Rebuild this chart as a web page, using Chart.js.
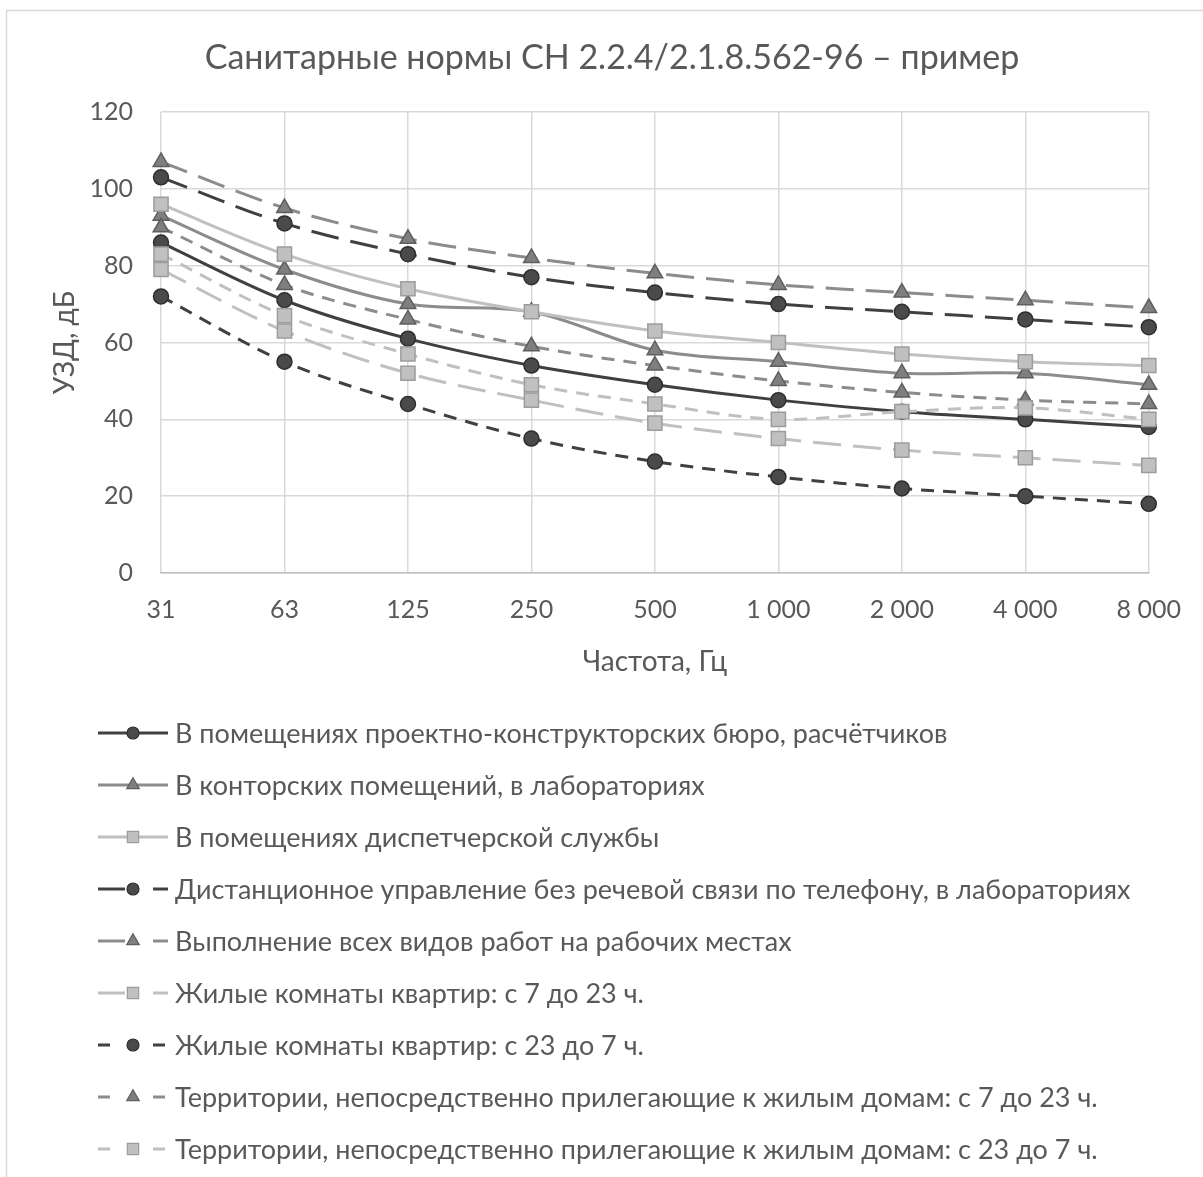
<!DOCTYPE html>
<html lang="ru">
<head>
<meta charset="utf-8">
<title>Санитарные нормы СН 2.2.4/2.1.8.562-96</title>
<script src="https://cdn.jsdelivr.net/npm/chart.js@4.4.1/dist/chart.umd.min.js"></script>
<style>
  html, body { margin: 0; padding: 0; background: #fff; }
  #wrap { position: relative; width: 1203px; height: 1177px; }
</style>
</head>
<body>
<div id="wrap"><canvas id="chart"></canvas></div>
<script>
// octave band centre frequencies, Hz
const frequencies = ['31', '63', '125', '250', '500', '1 000', '2 000', '4 000', '8 000'];
const yMin = 0, yMax = 120, yStep = 20;

const chartTitle = 'Санитарные нормы СН 2.2.4/2.1.8.562-96 – пример';

const seriesNames = [
  'В помещениях проектно-конструкторских бюро, расчётчиков',
  'В конторских помещений, в лабораториях',
  'В помещениях диспетчерской службы',
  'Дистанционное управление без речевой связи по телефону, в лабораториях',
  'Выполнение всех видов работ на рабочих местах',
  'Жилые комнаты квартир: с 7 до 23 ч.',
  'Жилые комнаты квартир: с 23 до 7 ч.',
  'Территории, непосредственно прилегающие к жилым домам: с 7 до 23 ч.',
  'Территории, непосредственно прилегающие к жилым домам: с 23 до 7 ч.',
];

// sound pressure levels, dB
const designOffices  = [86, 71, 61, 54, 49, 45, 42, 40, 38];
const officesLabs    = [93, 79, 70, 68, 58, 55, 52, 52, 49];
const dispatchRooms  = [96, 83, 74, 68, 63, 60, 57, 55, 54];
const remoteControl  = [103, 91, 83, 77, 73, 70, 68, 66, 64];
const allWorkplaces  = [107, 95, 87, 82, 78, 75, 73, 71, 69];
const flatsDay       = [79, 63, 52, 45, 39, 35, 32, 30, 28];
const flatsNight     = [72, 55, 44, 35, 29, 25, 22, 20, 18];
const territoryDay   = [90, 75, 66, 59, 54, 50, 47, 45, 44];
const territoryNight = [83, 67, 57, 49, 44, 40, 42, 43, 40];

const seriesValues = [designOffices, officesLabs, dispatchRooms, remoteControl, allWorkplaces,
  flatsDay, flatsNight, territoryDay, territoryNight];

// look of each series: tone / marker / dash
const tones = {
  dark:  { line: '#404040', fill: '#4a4a4a', edge: '#2e2e2e', marker: 'circle',   radius: 7.5 },
  mid:   { line: '#8c8c8c', fill: '#7f7f7f', edge: '#5e5e5e', marker: 'triangle', radius: 9 },
  light: { line: '#c0c0c0', fill: '#c0c0c0', edge: '#9c9c9c', marker: 'rect',     radius: 10 },
};
const dashes = { solid: [], long: [28, 12], short: [13, 9] };
// Excel draws the legend sample with a coarser pattern: dash, marker, dash
const legendDashes = { solid: [], long: [27, 28], short: [12, 43] };
const seriesTone = ['dark', 'mid', 'light', 'dark', 'mid', 'light', 'dark', 'mid', 'light'];
const seriesDash = ['solid', 'solid', 'solid', 'long', 'long', 'long', 'short', 'short', 'short'];

const TEXT = '#595959';
const FONT = 'Lato';

const datasets = seriesNames.map((name, i) => {
  const t = tones[seriesTone[i]];
  return {
    label: name,
    data: seriesValues[i],
    borderColor: t.line,
    borderWidth: 3,
    borderDash: dashes[seriesDash[i]],
    legendDash: legendDashes[seriesDash[i]],
    tension: 0.33,
    pointStyle: t.marker,
    pointRadius: t.radius,
    pointBackgroundColor: t.fill,
    pointBorderColor: t.edge,
    pointBorderWidth: 1.5,
    order: seriesNames.length - i, // later series on top, like Excel
  };
});

// Excel-like light frame and the title (centred on the plot, not the canvas)
const framePlugin = {
  id: 'frame',
  beforeDraw(chart) {
    const ctx = chart.ctx;
    ctx.save();
    ctx.strokeStyle = '#d9d9d9';
    ctx.lineWidth = 1.5;
    ctx.strokeRect(6.5, 10.5, chart.width, chart.height);
    ctx.fillStyle = TEXT;
    ctx.font = '34px ' + FONT;
    ctx.textAlign = 'center';
    ctx.textBaseline = 'middle';
    ctx.fillText(chartTitle, 612, 58);
    ctx.restore();
  }
};

// one legend entry per row, sample line + marker + text
const rowLegend = {
  id: 'rowLegend',
  afterDraw(chart) {
    const ctx = chart.ctx;
    ctx.save();
    chart.data.datasets.forEach((ds, i) => {
      const y = 733 + i * 52;
      ctx.strokeStyle = ds.borderColor;
      ctx.lineWidth = ds.borderWidth;
      ctx.setLineDash(ds.legendDash);
      ctx.beginPath();
      ctx.moveTo(98, y);
      ctx.lineTo(168, y);
      ctx.stroke();
      ctx.setLineDash([]);
      ctx.fillStyle = ds.pointBackgroundColor;
      ctx.strokeStyle = ds.pointBorderColor;
      ctx.lineWidth = 1.2;
      Chart.helpers.drawPoint(ctx, { pointStyle: ds.pointStyle, radius: ds.pointRadius * 0.8, borderWidth: 1.2, rotation: 0 }, 133, y);
      ctx.fillStyle = TEXT;
      ctx.font = '27px ' + FONT;
      ctx.textBaseline = 'middle';
      ctx.fillText(ds.label, 175, y + 1);
    });
    ctx.restore();
  }
};

const tickFont = { family: FONT, size: 25 };
const titleFont = { family: FONT, size: 28 };

new Chart(document.getElementById('chart'), {
  type: 'line',
  data: { labels: frequencies, datasets },
  options: {
    responsive: true,
    maintainAspectRatio: false,
    animation: false,
    layout: { padding: { top: 112, left: 10, right: 41, bottom: 494 } },
    plugins: {
      legend: { display: false },
      tooltip: { enabled: false },
      title: { display: false },
    },
    scales: {
      x: {
        grid: { color: '#d9d9d9', lineWidth: 1.5, drawTicks: false },
        border: { color: '#bfbfbf', width: 1.5 },
        ticks: { color: TEXT, font: tickFont, padding: 22, maxRotation: 0, autoSkip: false },
        title: { display: true, text: 'Частота, Гц', color: TEXT, font: titleFont, padding: { top: 6 } },
        afterFit(scale) { scale.height = 110; },
      },
      y: {
        min: yMin,
        max: yMax,
        grid: { color: '#d9d9d9', lineWidth: 1.5, drawTicks: false },
        border: { display: false },
        ticks: { stepSize: yStep, color: TEXT, font: tickFont, padding: 28 },
        title: { display: true, text: 'УЗД, дБ', color: TEXT, font: titleFont, padding: { top: 38 } },
        afterFit(scale) { scale.width = 151; },
      },
    },
  },
  plugins: [framePlugin, rowLegend],
});
</script>
</body>
</html>
